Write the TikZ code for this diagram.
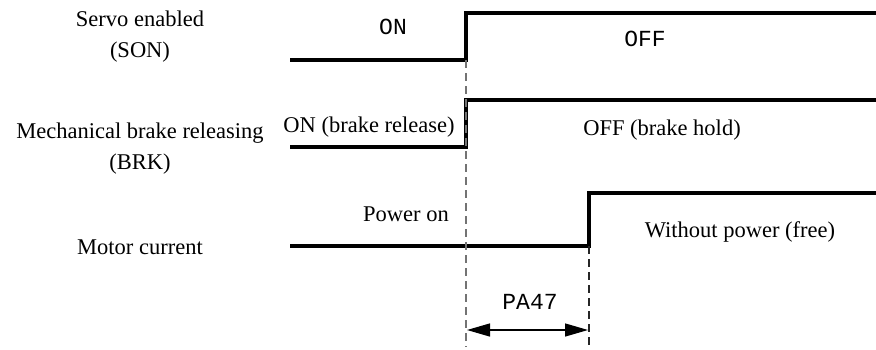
\documentclass[tikz,border=0pt]{standalone}
\usepackage{fontspec}
\setmainfont{Liberation Serif}
\setmonofont{Liberation Mono}
\usetikzlibrary{arrows.meta}

\begin{document}
\begin{tikzpicture}[
  x=1pt,y=-1pt,
  font=\rmfamily\fontsize{22.5}{31}\selectfont,
  signame/.style={align=center,inner sep=0pt},
  state/.style={inner sep=0pt},
  mono/.style={inner sep=0pt,font=\ttfamily\fontsize{23}{26}\selectfont},
  wave/.style={line width=3.2pt,line join=miter},
  guide/.style={line width=1.6pt,dash pattern=on 8pt off 5pt},
  span/.style={{Triangle[length=23pt,width=13pt]}-{Triangle[length=23pt,width=13pt]},line width=1.3pt}
]
\path[use as bounding box] (0,0) rectangle (876,349);
% signal names
\node[signame] (son) at (140,37) {Servo enabled\\(SON)};
\node[signame] (brk) at (140,149) {Mechanical brake releasing\\(BRK)};
\node[signame] (cur) at (140,247) {Motor current};
% waveforms
\coordinate (t0) at (466,0);
\coordinate (t1) at (589,0);
\draw[wave] (290,60) -- (t0 |- 0,60) -- (t0 |- 0,13) -- (876,13);
\draw[wave] (290,147) -- (t0 |- 0,147) -- (t0 |- 0,100) -- (876,100);
\draw[wave] (290,246) -- (t1 |- 0,246) -- (t1 |- 0,193) -- (876,193);
% state labels
\node[mono] (sonon) at (393,27) {ON};
\node[mono] (sonoff) at (645,39) {OFF};
\node[state] (brkon) at (369,127) {ON (brake release)};
\node[state] (brkoff) at (662,130) {OFF (brake hold)};
\node[state] (curon) at (406,214) {Power on};
\node[state] (curoff) at (740,232) {Without power (free)};
% timing guides
\coordinate (g0a) at (466,60);
\coordinate (g0b) at (466,347);
\coordinate (g1a) at (589,246);
\coordinate (g1b) at (589,349);
\draw[guide,black!55] (g0a) -- (g0b);
\draw[guide,black!85] (g1a) -- (g1b);
\coordinate (d0) at (467,330);
\coordinate (d1) at (588,330);
\draw[span] (d0) -- (d1);
\node[mono] (delay) at (530,302) {PA47};
\end{tikzpicture}
\end{document}
